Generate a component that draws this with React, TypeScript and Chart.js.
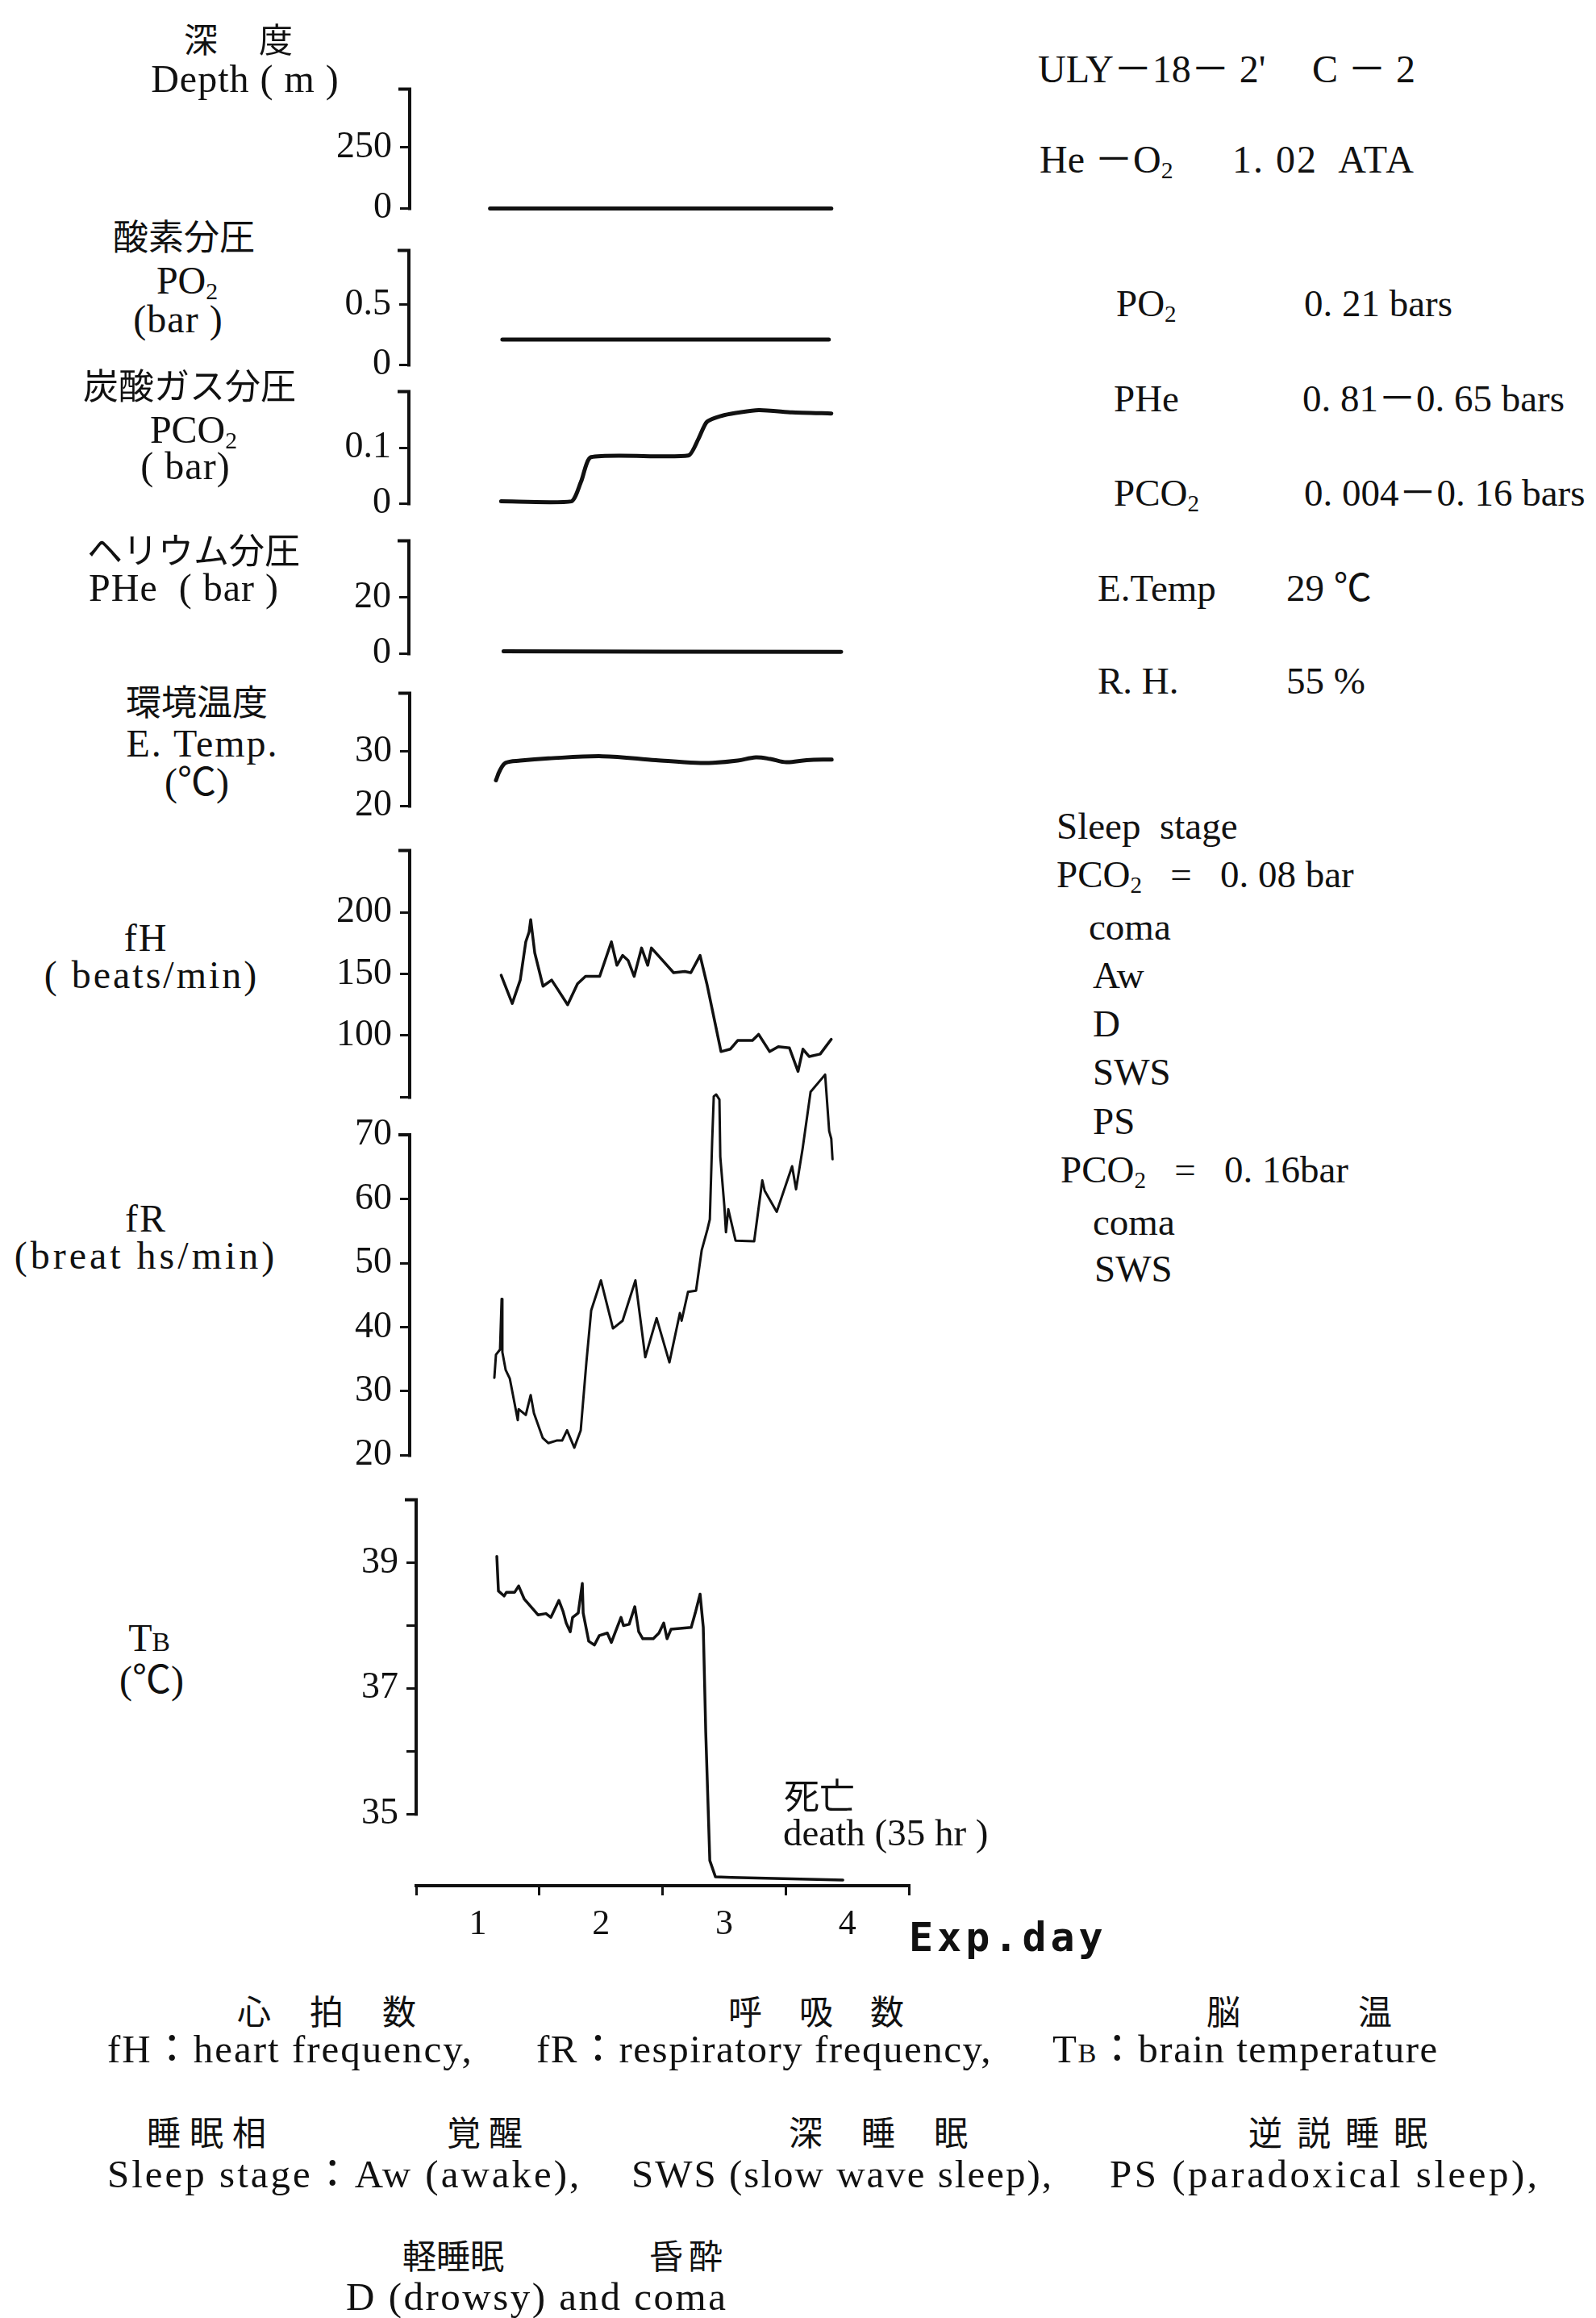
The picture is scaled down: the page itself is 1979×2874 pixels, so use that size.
import React, { useEffect, useRef } from 'react';
import { Chart, registerables } from 'chart.js';

Chart.register(...registerables);

// ---------------- data (x in experiment days, 0 = start of axis) ----------------
const depthDays = [0.6, 1.5, 2.5, 3.37];
const depthM = [0, 0, 0, 0];

const po2Days = [0.7, 1.5, 2.5, 3.35];
const po2Bar = [0.21, 0.21, 0.21, 0.21];

const pco2Days = [0.69, 1.26, 1.34, 1.42, 2.21, 2.29, 2.36, 2.5, 2.78, 3.05, 3.37];
const pco2Bar = [0.004, 0.004, 0.04, 0.083, 0.086, 0.115, 0.146, 0.158, 0.167, 0.163, 0.161];

const pheDays = [0.71, 2.0, 3.45];
const pheBar = [0.8, 0.7, 0.65];

const etempDays = [0.648, 0.68, 0.727, 0.845, 1.074, 1.513, 1.945, 2.272, 2.41, 2.61, 2.757, 2.875, 3.006, 3.17, 3.373];
const etempC = [24.7, 26.5, 27.9, 28.3, 28.7, 29.1, 28.4, 27.9, 27.9, 28.3, 28.9, 28.6, 28.0, 28.4, 28.5];

const fhDays = [0.69, 0.78, 0.845, 0.89, 0.917, 0.93, 0.963, 1.03, 1.1, 1.146, 1.23, 1.31, 1.375, 1.49, 1.585, 1.63, 1.676, 1.72, 1.77, 1.83, 1.88, 1.91, 2.0, 2.09, 2.18, 2.23, 2.305, 2.36, 2.475, 2.55, 2.61, 2.73, 2.78, 2.87, 2.94, 3.03, 3.1, 3.14, 3.19, 3.28, 3.37];
const fhBpm = [149, 126, 145, 176, 184, 194, 167, 140, 145, 138, 125, 142, 148, 148, 176, 157, 165, 161, 148, 171, 157, 171, 161, 151, 152, 151, 165, 142, 87, 89, 96, 96, 101, 87, 91, 90, 71, 89, 83, 85, 97];

const frDays = [0.635, 0.648, 0.681, 0.694, 0.7, 0.727, 0.76, 0.8, 0.825, 0.832, 0.89, 0.93, 0.956, 1.028, 1.074, 1.14, 1.185, 1.225, 1.284, 1.336, 1.382, 1.421, 1.5, 1.598, 1.676, 1.78, 1.86, 1.952, 2.056, 2.141, 2.155, 2.207, 2.272, 2.318, 2.364, 2.384, 2.403, 2.416, 2.436, 2.462, 2.469, 2.502, 2.515, 2.534, 2.593, 2.744, 2.81, 2.829, 2.927, 3.052, 3.084, 3.137, 3.202, 3.32, 3.353, 3.37, 3.38];
const frBpm = [32.1, 35.7, 36.5, 44.4, 36.1, 33.3, 32, 28, 25.5, 27.2, 26.3, 29.4, 26.6, 22.7, 21.9, 22.3, 22.3, 23.9, 21.2, 23.9, 34.5, 42.6, 47.3, 39.8, 41, 47.3, 35.3, 41.4, 34.5, 42.2, 41, 45.5, 45.7, 52, 55.2, 56.8, 69, 76, 76.3, 75.5, 66.6, 58.9, 54.8, 58.4, 53.5, 53.4, 62.9, 61.3, 58, 65.1, 61.5, 67.8, 76.7, 79.4, 70.6, 69.4, 66.2];

const tbDays = [0.655, 0.668, 0.714, 0.733, 0.8, 0.832, 0.878, 0.989, 1.054, 1.094, 1.159, 1.192, 1.218, 1.251, 1.27, 1.316, 1.349, 1.356, 1.401, 1.447, 1.487, 1.552, 1.585, 1.618, 1.663, 1.683, 1.729, 1.775, 1.807, 1.84, 1.925, 1.971, 2.01, 2.037, 2.069, 2.233, 2.266, 2.305, 2.331, 2.351, 2.384, 2.43, 2.561, 3.464];
const tbC = [39.1, 38.55, 38.47, 38.53, 38.53, 38.63, 38.42, 38.17, 38.19, 38.13, 38.4, 38.23, 38.04, 37.9, 38.13, 38.2, 38.67, 38.2, 37.75, 37.69, 37.84, 37.88, 37.73, 37.9, 38.13, 38.0, 38.02, 38.3, 37.9, 37.79, 37.79, 37.88, 38.04, 37.79, 37.94, 37.97, 38.2, 38.5, 37.97, 36.3, 34.26, 34.0, 33.99, 33.95];

// tick values / labels
const depthTicks = [0, 250];
const depthLabels = ['0', '250'];
const po2Ticks = [0, 0.5];
const po2Labels = ['0', '0.5'];
const pco2Ticks = [0, 0.1];
const pco2Labels = ['0', '0.1'];
const pheTicks = [0, 20];
const pheLabels = ['0', '20'];
const etempTicks = [20, 30];
const etempLabels = ['20', '30'];
const fhTicks = [50, 100, 150, 200];
const fhLabels = ['', '100', '150', '200'];
const frTicks = [20, 30, 40, 50, 60, 70];
const frLabels = ['20', '30', '40', '50', '60', '70'];
const tbTicks = [35, 36, 37, 38, 39];
const tbLabels = ['35', '', '37', '', '39'];
const dayTicks = [0, 0.5, 1, 1.5, 2, 2.5, 3, 3.5, 4];
const dayLabels = ['', '1', '', '2', '', '3', '', '4', ''];

// ---------------- layout ----------------
const DAY0_PX = 516;
const DAY_PX = 152.75;
const X_MAX = 4;
const LABEL_W = 150;
const PAD_T = 30;
const PAD_B = 30;
const PAD_R = 30;
const XAXIS_H = 80;
const INK = '#111';
const SERIF = '"Liberation Serif", "Noto Sans CJK JP", serif';
const CJK = '"Noto Sans CJK JP", sans-serif';

type Spec = {
  id: string;
  xs: number[];
  ys: number[];
  yMin: number;
  yMax: number;
  axisMin: number;
  axisMax: number;
  ticks: number[];
  labels: string[];
  top: number;
  bottom: number;
  axisX: number;
  lw: number;
  tension?: number;
  xAxis?: boolean;
};

const PANELS: Spec[] = [
  { id: 'depth', xs: depthDays, ys: depthM, yMin: 0, yMax: 490, axisMin: 0, axisMax: 490, ticks: depthTicks, labels: depthLabels, top: 103, bottom: 266, axisX: 508, lw: 5 },
  { id: 'po2', xs: po2Days, ys: po2Bar, yMin: 0, yMax: 0.95, axisMin: 0, axisMax: 0.95, ticks: po2Ticks, labels: po2Labels, top: 303, bottom: 460, axisX: 507, lw: 5 },
  { id: 'pco2', xs: pco2Days, ys: pco2Bar, yMin: 0, yMax: 0.2, axisMin: 0, axisMax: 0.2, ticks: pco2Ticks, labels: pco2Labels, top: 478, bottom: 632, axisX: 507, lw: 5, tension: 0.2 },
  { id: 'phe', xs: pheDays, ys: pheBar, yMin: 0, yMax: 40, axisMin: 0, axisMax: 40, ticks: pheTicks, labels: pheLabels, top: 663, bottom: 818, axisX: 507, lw: 5 },
  { id: 'etemp', xs: etempDays, ys: etempC, yMin: 20, yMax: 40.6, axisMin: 20, axisMax: 40.6, ticks: etempTicks, labels: etempLabels, top: 852, bottom: 1007, axisX: 508, lw: 5, tension: 0.35 },
  { id: 'fh', xs: fhDays, ys: fhBpm, yMin: 50, yMax: 250, axisMin: 50, axisMax: 250, ticks: fhTicks, labels: fhLabels, top: 1047, bottom: 1368, axisX: 508, lw: 3.5 },
  { id: 'fr', xs: frDays, ys: frBpm, yMin: 20, yMax: 80, axisMin: 20, axisMax: 70, ticks: frTicks, labels: frLabels, top: 1320, bottom: 1812, axisX: 508, lw: 3 },
  { id: 'tb', xs: tbDays, ys: tbC, yMin: 33.86, yMax: 40, axisMin: 35, axisMax: 40, ticks: tbTicks, labels: tbLabels, top: 1852, bottom: 2338, axisX: 516, lw: 3.5, xAxis: true },
];

const bracketAxis = {
  id: 'bracketAxis',
  afterDraw(chart: any, _args: any, opts: any) {
    const y = chart.scales.y;
    const { ctx, chartArea } = chart;
    const top = y.getPixelForValue(opts.max);
    const bot = y.getPixelForValue(opts.min);
    ctx.save();
    ctx.strokeStyle = INK;
    ctx.lineWidth = 4;
    ctx.lineCap = 'square';
    ctx.beginPath();
    ctx.moveTo(chartArea.left - 12, top);
    ctx.lineTo(chartArea.left, top);
    ctx.lineTo(chartArea.left, bot);
    ctx.stroke();
    ctx.restore();
  },
};

function Panel({ spec }: { spec: Spec }) {
  const ref = useRef<HTMLCanvasElement>(null);
  const left = spec.axisX - LABEL_W;
  const top = spec.top - PAD_T;
  const w = DAY0_PX + DAY_PX * X_MAX - spec.axisX + LABEL_W + PAD_R;
  const h = spec.bottom - spec.top + PAD_T + PAD_B + (spec.xAxis ? XAXIS_H : 0);
  const xMin = (spec.axisX - DAY0_PX) / DAY_PX;

  useEffect(() => {
    const chart = new Chart(ref.current as HTMLCanvasElement, {
      type: 'line',
      data: {
        datasets: [
          {
            data: spec.xs.map((x, i) => ({ x, y: spec.ys[i] })),
            borderColor: INK,
            borderWidth: spec.lw,
            pointRadius: 0,
            tension: spec.tension || 0,
            fill: false,
            clip: false as any,
            borderJoinStyle: 'round',
            borderCapStyle: 'round',
          } as any,
        ],
      },
      options: {
        animation: false,
        responsive: false,
        maintainAspectRatio: false,
        layout: { padding: { left: 0, right: PAD_R, top: PAD_T, bottom: PAD_B } },
        plugins: {
          legend: { display: false },
          tooltip: { enabled: false },
          bracketAxis: { min: spec.axisMin, max: spec.axisMax },
        } as any,
        scales: {
          x: {
            type: 'linear',
            min: xMin,
            max: X_MAX,
            display: !!spec.xAxis,
            afterBuildTicks: (s: any) => {
              s.ticks = dayTicks.map((v) => ({ value: v }));
            },
            afterFit: (s: any) => {
              if (spec.xAxis) s.height = XAXIS_H;
            },
            ticks: {
              autoSkip: false,
              maxRotation: 0,
              padding: 10,
              color: INK,
              font: { family: SERIF, size: 44 },
              callback: (_v: any, i: number) => dayLabels[i],
            },
            grid: {
              drawOnChartArea: false,
              drawTicks: true,
              tickLength: 12,
              lineWidth: 3,
              color: (c: any) => (c.tick && Number.isInteger(c.tick.value) ? INK : 'rgba(0,0,0,0)'),
            },
            border: { display: true, color: INK, width: 4 },
          },
          y: {
            type: 'linear',
            min: spec.yMin,
            max: spec.yMax,
            afterBuildTicks: (s: any) => {
              s.ticks = spec.ticks.map((v) => ({ value: v }));
            },
            afterFit: (s: any) => {
              s.width = LABEL_W;
            },
            ticks: {
              autoSkip: false,
              padding: 10,
              color: INK,
              font: { family: SERIF, size: 46 },
              callback: (_v: any, i: number) => spec.labels[i],
            },
            grid: { drawOnChartArea: false, drawTicks: true, tickLength: 12, lineWidth: 3, color: INK },
            border: { display: false },
          },
        },
      } as any,
      plugins: [bracketAxis as any],
    });
    return () => chart.destroy();
  }, []);

  return (
    <canvas
      ref={ref}
      width={w}
      height={h}
      style={{ position: 'absolute', left, top, width: w, height: h }}
    />
  );
}

type TP = {
  x: number;
  y: number;
  size?: number;
  mid?: boolean;
  cjk?: boolean;
  ls?: number;
  bold?: boolean;
  family?: string;
  children: React.ReactNode;
};

function T({ x, y, size = 48, mid = false, cjk = false, ls, bold, family, children }: TP) {
  return (
    <div
      style={{
        position: 'absolute',
        left: x,
        top: y,
        fontSize: size,
        lineHeight: 1,
        whiteSpace: 'pre',
        transform: `translate(${mid ? '-50%' : '0'}, -50%)`,
        fontFamily: family || (cjk ? CJK : SERIF),
        letterSpacing: ls,
        fontWeight: bold ? 700 : 400,
        color: INK,
      }}
    >
      {children}
    </div>
  );
}

const Sub = ({ c }: { c: string }) => (
  <span style={{ fontSize: '0.62em', position: 'relative', top: '0.25em' }}>{c}</span>
);

export default function App() {
  return (
    <div
      style={{
        position: 'absolute',
        left: 0,
        top: 0,
        width: 1979,
        height: 2874,
        background: '#fff',
        overflow: 'hidden',
      }}
    >
      {PANELS.map((p) => (
        <Panel key={p.id} spec={p} />
      ))}

      {/* left axis titles */}
      <T x={249} y={47} size={42} mid cjk>深</T>
      <T x={342} y={47} size={42} mid cjk>度</T>
      <T x={304} y={98} mid ls={1}>Depth ( m )</T>
      <T x={228} y={291} size={44} mid cjk>酸素分圧</T>
      <T x={232} y={348} mid>PO<Sub c="2" /></T>
      <T x={221} y={396} mid ls={1}>(bar )</T>
      <T x={235} y={476} size={44} mid cjk>炭酸ガス分圧</T>
      <T x={240} y={533} mid>PCO<Sub c="2" /></T>
      <T x={230} y={578} mid ls={1}>( bar)</T>
      <T x={240} y={680} size={44} mid cjk>ヘリウム分圧</T>
      <T x={228} y={729} mid ls={1}>PHe  ( bar )</T>
      <T x={244} y={868} size={44} mid cjk>環境温度</T>
      <T x={251} y={922} mid ls={2}>E. Temp.</T>
      <T x={244} y={970} mid>(℃)</T>
      <T x={181} y={1163} mid ls={2}>fH</T>
      <T x={188} y={1209} mid ls={3}>( beats/min)</T>
      <T x={181} y={1511} mid ls={2}>fR</T>
      <T x={181} y={1557} mid ls={4}>(breat hs/min)</T>
      <T x={185} y={2031} mid>T<span style={{ fontSize: '0.7em' }}>B</span></T>
      <T x={188} y={2083} mid>(℃)</T>

      {/* death annotation */}
      <T x={972} y={2224} size={44} cjk>死亡</T>
      <T x={971} y={2272} size={47}>death (35 hr )</T>

      {/* x axis title */}
      <T x={1127} y={2402} size={50} bold ls={5} family={'"DejaVu Sans Mono", monospace'}>Exp.day</T>

      {/* right block */}
      <T x={1287} y={86} size={48}>ULY－18－ 2'</T>
      <T x={1627} y={86} size={48}>C － 2</T>
      <T x={1289} y={198} size={48}>He －O<Sub c="2" /></T>
      <T x={1528} y={198} size={48} ls={2}>1. 02  ATA</T>
      <T x={1384} y={376} size={47}>PO<Sub c="2" /></T>
      <T x={1617} y={376} size={47}>0. 21 bars</T>
      <T x={1381} y={494} size={47}>PHe</T>
      <T x={1615} y={494} size={47}>0. 81－0. 65 bars</T>
      <T x={1381} y={611} size={47}>PCO<Sub c="2" /></T>
      <T x={1617} y={611} size={47}>0. 004－0. 16 bars</T>
      <T x={1361} y={729} size={47}>E.Temp</T>
      <T x={1595} y={729} size={47}>29 ℃</T>
      <T x={1361} y={844} size={47}>R. H.</T>
      <T x={1595} y={844} size={47}>55 %</T>

      {/* sleep stage block */}
      <T x={1310} y={1024} size={47}>Sleep  stage</T>
      <T x={1310} y={1084} size={47}>PCO<Sub c="2" />   =   0. 08 bar</T>
      <T x={1350} y={1149} size={47}>coma</T>
      <T x={1355} y={1209} size={47}>Aw</T>
      <T x={1355} y={1269} size={47}>D</T>
      <T x={1355} y={1329} size={47}>SWS</T>
      <T x={1355} y={1390} size={47}>PS</T>
      <T x={1315} y={1450} size={47}>PCO<Sub c="2" />   =   0. 16bar</T>
      <T x={1355} y={1515} size={47}>coma</T>
      <T x={1357} y={1573} size={47}>SWS</T>

      {/* bottom legend */}
      <T x={294} y={2492} size={42} cjk ls={48}>心拍数</T>
      <T x={903} y={2492} size={42} cjk ls={46}>呼吸数</T>
      <T x={1496} y={2492} size={42} cjk ls={146}>脳温</T>
      <T x={133} y={2540} size={49} ls={2}>fH：heart frequency,</T>
      <T x={665} y={2540} size={49} ls={1.5}>fR：respiratory frequency,</T>
      <T x={1305} y={2540} size={49} ls={1.5}>T<span style={{ fontSize: '0.7em' }}>B</span>：brain temperature</T>

      <T x={182} y={2642} size={42} cjk ls={11}>睡眠相</T>
      <T x={554} y={2642} size={42} cjk ls={10}>覚醒</T>
      <T x={978} y={2642} size={42} cjk ls={48}>深睡眠</T>
      <T x={1548} y={2642} size={42} cjk ls={18}>逆説睡眠</T>
      <T x={133} y={2695} size={49} ls={3}>Sleep stage：Aw (awake),</T>
      <T x={783} y={2695} size={49} ls={2}>SWS (slow wave sleep),</T>
      <T x={1376} y={2695} size={49} ls={3.5}>PS (paradoxical sleep),</T>

      <T x={499} y={2795} size={42} cjk>軽睡眠</T>
      <T x={805} y={2795} size={42} cjk ls={7}>昏酔</T>
      <T x={429} y={2847} size={49} ls={2.5}>D (drowsy) and coma</T>
    </div>
  );
}
